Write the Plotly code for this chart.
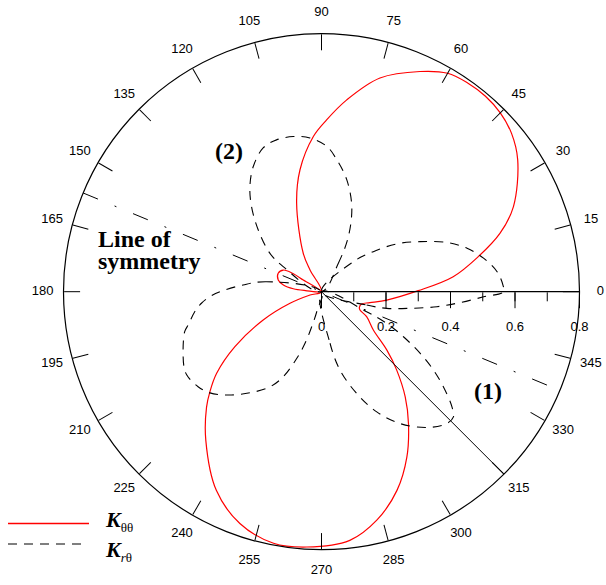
import plotly.graph_objects as go

# ---------------- data ----------------
# K_theta-theta (red, solid): main two-lobe branch and the small lobe
ktt_main_theta = [192, 196.0, 200.2, 205.9, 212.4, 217.9, 221.9, 225.1, 232.1, 242.1,
                  250.6, 259.2, 266.7, 276.5, 283.6, 290.8, 297.3, 303.4, 308.5, 313.8,
                  318.2, 323.5, 331.0, 334.6, 337.6, 343.0, 347.2, 352.7, 0.6, 6.5,
                  12.6, 18.1, 23.9, 33.9, 39.8, 45.0, 50.0, 55.0, 60.0, 65.9,
                  74.7, 82.5, 88.3, 93.0, 100.0, 105.7, 115.4, 117.9, 121]
ktt_main_r = [0, 0.037, 0.104, 0.201, 0.318, 0.412, 0.465, 0.505, 0.584, 0.697,
              0.762, 0.794, 0.793, 0.776, 0.729, 0.659, 0.577, 0.490, 0.417, 0.337,
              0.272, 0.200, 0.160, 0.132, 0.127, 0.130, 0.154, 0.204, 0.300, 0.411,
              0.498, 0.582, 0.651, 0.733, 0.767, 0.784, 0.791, 0.790, 0.782, 0.748,
              0.687, 0.600, 0.533, 0.482, 0.384, 0.285, 0.132, 0.076, 0]
ktt_small_theta = [146, 147.3, 147.5, 150.4, 156.9, 164.8, 170.0, 174.0, 176.0, 178]
ktt_small_r = [0, 0.067, 0.105, 0.136, 0.146, 0.139, 0.120, 0.088, 0.050, 0]

# K_r-theta (black, dashed): four lobes
krt_right_theta = [342, 343.6, 345.7, 349.4, 352.6, 355.5, 358.2, 0, 2.1, 6.5,
                   11.7, 16.6, 21.4, 26.9, 32.4, 37.7, 43.3, 52]
krt_right_r = [0, 0.146, 0.209, 0.280, 0.361, 0.431, 0.503, 0.565, 0.563, 0.548,
               0.513, 0.471, 0.418, 0.343, 0.277, 0.203, 0.136, 0]
krt_upper_theta = [53, 59.4, 64.0, 70.4, 77.3, 83.4, 87.9, 94.3, 100.3, 106.5,
                   112.1, 118.6, 124.3, 129.4, 135.7, 143.3, 146.8, 150]
krt_upper_r = [0, 0.102, 0.190, 0.280, 0.356, 0.412, 0.451, 0.478, 0.489, 0.491,
               0.481, 0.442, 0.394, 0.342, 0.274, 0.200, 0.142, 0]
krt_lowleft_theta = [165, 169.7, 175.1, 180, 182.6, 185.5, 189.0, 194.0, 196.3, 204.6,
                     209.8, 212.5, 217.6, 222.2, 227.9, 234.7, 241.5, 245.8, 249.6, 252.3,
                     254.4, 257, 260]
krt_lowleft_r = [0, 0.173, 0.244, 0.315, 0.347, 0.374, 0.398, 0.426, 0.442, 0.472,
                 0.489, 0.491, 0.483, 0.467, 0.432, 0.384, 0.336, 0.289, 0.221, 0.168,
                 0.113, 0.058, 0]
krt_lowright_theta = [276, 279.4, 283.3, 289.1, 294.7, 300.8, 307.8, 313.6, 316.5, 318.6,
                      322.0, 325.0, 328.0, 331.2, 334.1, 336.1, 337]
krt_lowright_r = [0, 0.162, 0.250, 0.334, 0.410, 0.476, 0.533, 0.564, 0.564, 0.539,
                  0.480, 0.424, 0.361, 0.290, 0.225, 0.153, 0]

# reference lines
symmetry_theta = [157.5, 337.5]   # "Line of symmetry"
line1_theta = 315                 # line (1)
r_max = 0.8

angular_tickvals = list(range(0, 360, 15))
angular_ticktext = [str(v) for v in angular_tickvals]
angular_label_r = 0.865


def join(*segs):
    out = []
    for i, s in enumerate(segs):
        if i:
            out.append(None)
        out.extend(s)
    return out


W, H = 606, 585
cx, cy, R = 321.5, 291.7, 258.0   # polar centre / radius in pixels
R4 = 284.0                        # larger overlay carrying the angular labels


def dom(rad):
    return dict(x=[(cx - rad) / W, (cx + rad) / W], y=[(H - cy - rad) / H, (H - cy + rad) / H])


fig = go.Figure()

fig.add_trace(go.Scatterpolar(
    r=join(ktt_main_r, ktt_small_r), theta=join(ktt_main_theta, ktt_small_theta),
    mode='lines', line=dict(color='#ff0000', width=1.2, shape='spline', smoothing=1),
    name='K_tt', showlegend=False, subplot='polar', hoverinfo='skip'))
fig.add_trace(go.Scatterpolar(
    r=join(krt_right_r, krt_upper_r, krt_lowleft_r, krt_lowright_r),
    theta=join(krt_right_theta, krt_upper_theta, krt_lowleft_theta, krt_lowright_theta),
    mode='lines', line=dict(color='black', width=1.1, dash='9px,7px', shape='spline', smoothing=1),
    name='K_rt', showlegend=False, subplot='polar', hoverinfo='skip'))
fig.add_trace(go.Scatterpolar(
    r=[r_max, 0, r_max], theta=[symmetry_theta[0], symmetry_theta[0], symmetry_theta[1]],
    mode='lines', line=dict(color='black', width=1, dash='16px,18px,2px,18px'),
    showlegend=False, subplot='polar', hoverinfo='skip'))
fig.add_trace(go.Scatterpolar(
    r=[0, r_max], theta=[line1_theta, line1_theta],
    mode='lines', line=dict(color='black', width=1),
    showlegend=False, subplot='polar', hoverinfo='skip'))
for sp in ['polar2', 'polar3']:
    fig.add_trace(go.Scatterpolar(r=[0], theta=[0], mode='markers', marker=dict(opacity=0),
                                  showlegend=False, subplot=sp, hoverinfo='skip'))
# angular tick labels
fig.add_trace(go.Scatterpolar(
    r=[angular_label_r] * len(angular_tickvals), theta=angular_tickvals, text=angular_ticktext,
    mode='text', textposition='middle center', cliponaxis=False,
    textfont=dict(family='Liberation Sans, Arial', size=13, color='black'),
    showlegend=False, subplot='polar4', hoverinfo='skip'))

tick_font = dict(family='Liberation Sans, Arial', size=13, color='black')
base_ang = dict(rotation=0, direction='counterclockwise', tickmode='array',
                tickvals=angular_tickvals, ticktext=angular_ticktext, showgrid=False)
base_rad = dict(range=[0, r_max], angle=0, side='clockwise', showgrid=False, tick0=0,
                tickmode='linear')
hidden_ang = dict(base_ang, ticks='', showticklabels=False, showline=False)

fig.update_layout(
    width=W, height=H, margin=dict(l=0, r=0, t=0, b=0),
    paper_bgcolor='white', plot_bgcolor='white', template='none',
    polar=dict(domain=dom(R), bgcolor='rgba(0,0,0,0)',
               angularaxis=dict(base_ang, ticks='inside', ticklen=16, tickcolor='black', tickwidth=1,
                                showticklabels=False, showline=True, linecolor='black', linewidth=1.2),
               radialaxis=dict(base_rad, dtick=0.1, ticks='outside', ticklen=9, tickcolor='black',
                               tickwidth=1, showticklabels=False, showline=True, linecolor='black',
                               linewidth=1.2)),
    polar2=dict(domain=dom(R), bgcolor='rgba(0,0,0,0)', angularaxis=hidden_ang,
                radialaxis=dict(base_rad, dtick=0.2, ticks='outside', ticklen=16, tickcolor='black',
                                tickwidth=1, showticklabels=False, showline=False)),
    polar3=dict(domain=dom(R), bgcolor='rgba(0,0,0,0)', angularaxis=hidden_ang,
                radialaxis=dict(base_rad, dtick=0.2, ticks='outside', ticklen=23,
                                tickcolor='rgba(0,0,0,0)', showticklabels=True, tickfont=tick_font,
                                showline=False)),
    polar4=dict(domain=dom(R4), bgcolor='rgba(0,0,0,0)', angularaxis=hidden_ang,
                radialaxis=dict(range=[0, r_max * R4 / R], visible=False, showgrid=False)),
)

serif_b = dict(family='Liberation Serif, Times New Roman', size=24, color='black')


def ann(text, x, y, **kw):
    fig.add_annotation(text=text, x=x / W, y=1 - y / H, xref='paper', yref='paper',
                       showarrow=False, **kw)


ann('<b>(2)</b>', 229, 136, font=serif_b)
ann('<b>(1)</b>', 504, 406, font=serif_b)
ann('<b>Line of</b>', 96, 238.5, xanchor='left', yanchor='middle', font=serif_b)
ann('<b>symmetry</b>', 96, 260.5, xanchor='left', yanchor='middle', font=serif_b)

# legend drawn by hand
fig.add_shape(type='line', xref='paper', yref='paper', x0=8 / W, x1=89 / W,
              y0=1 - 523.5 / H, y1=1 - 523.5 / H, line=dict(color='#ff0000', width=1.3))
fig.add_shape(type='line', xref='paper', yref='paper', x0=8 / W, x1=87 / W,
              y0=1 - 544 / H, y1=1 - 544 / H, line=dict(color='black', width=1.1, dash='9px,7px'))
leg_font = dict(family='Liberation Serif, Times New Roman', size=22, color='black')
ann("<b><i>K</i></b><sub><span style='font-size:13px'>θθ</span></sub>", 103, 521,
    xanchor='left', yanchor='middle', font=leg_font)
ann("<b><i>K</i></b><sub><span style='font-size:13px'><i>r</i>θ</span></sub>", 103, 551,
    xanchor='left', yanchor='middle', font=leg_font)

# remove the browser's default 8px page margin so the figure sits at the page origin
fig.write_html('out.html', config={'displayModeBar': False},
               post_script="document.body.style.margin='0px';")
